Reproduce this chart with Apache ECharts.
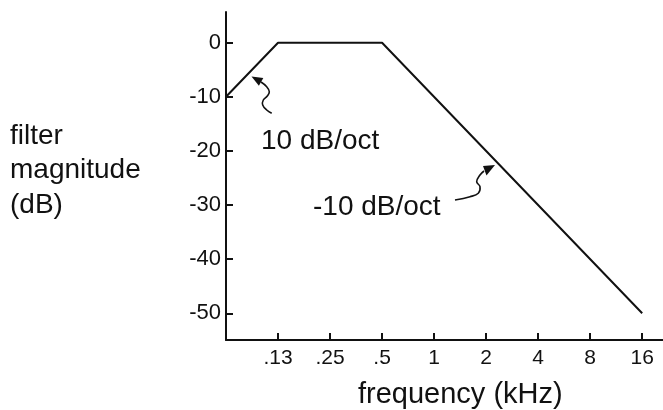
<!DOCTYPE html>
<html>
<head>
<meta charset="utf-8">
<script src="https://cdn.jsdelivr.net/npm/echarts@6/dist/echarts.min.js"></script>
<style>html,body{margin:0;padding:0;background:#fff}#c{width:663px;height:410px}</style>
</head>
<body>
<div id="c"></div>
<script>
// x positions are octave indices: 0 = .0625 kHz (at y axis), 1 = .13, 2 = .25 ... 8 = 16 kHz
const xTickLabels = ['', '.13', '.25', '.5', '1', '2', '4', '8', '16'];
const xTickPositions = [1, 2, 3, 4, 5, 6, 7, 8];
const yTickValues = [0, -10, -20, -30, -40, -50];
const responseX = [0, 1, 3, 8];
const responseDb = [-10, 0, 0, -50];

const FONT = '"Liberation Sans", Arial, Helvetica, sans-serif';
const INK = '#111';

const chart = echarts.init(document.getElementById('c'), null, {renderer: 'canvas'});
chart.setOption({
  backgroundColor: '#fff',
  animation: false,
  grid: {left: 226, right: 0, top: 12, bottom: 70},
  xAxis: {
    type: 'value', min: 0, max: 8.4,
    axisLine: {show: true, onZero: false, lineStyle: {color: INK, width: 2}},
    axisTick: {show: true, inside: true, length: 7, customValues: xTickPositions, lineStyle: {color: INK, width: 2}},
    axisLabel: {show: true, customValues: xTickPositions, margin: 8, color: INK, fontSize: 21, fontFamily: FONT,
      formatter: v => xTickLabels[Math.round(v)]},
    splitLine: {show: false}
  },
  yAxis: {
    type: 'value', min: -54.93, max: 5.67,
    axisLine: {show: true, onZero: false, lineStyle: {color: INK, width: 2}},
    axisTick: {show: true, inside: true, length: 7, customValues: yTickValues, lineStyle: {color: INK, width: 2}},
    axisLabel: {show: true, customValues: yTickValues, margin: 5, color: INK, fontSize: 22, fontFamily: FONT},
    splitLine: {show: false}
  },
  series: [{
    type: 'line',
    data: responseX.map((x, i) => [x, responseDb[i]]),
    symbol: 'none',
    lineStyle: {color: INK, width: 2}
  }],
  graphic: [
    {type: 'text', left: 10, top: 119, style: {text: 'filter\nmagnitude\n(dB)', font: '28px ' + FONT, fill: INK, lineHeight: 34.5}},
    {type: 'text', left: 261, top: 127, style: {text: '10 dB/oct', font: '28px ' + FONT, fill: INK}},
    {type: 'text', left: 313, top: 193, style: {text: '-10 dB/oct', font: '28px ' + FONT, fill: INK}},
    {type: 'text', left: 358, top: 380, style: {text: 'frequency (kHz)', font: '29px ' + FONT, fill: INK}},
    // arrow 1
    {type: 'polyline', shape: {points: [[261,82],[266.7,86.7],[269.3,91.7],[267.3,96],[263.3,100],[262.7,105],[266.7,110],[271.7,113.3]], smooth: 0.4},
      style: {stroke: INK, lineWidth: 1.6, fill: null}},
    {type: 'polygon', shape: {points: [[251.5,76.5],[263.3,78],[258.9,85.8]]}, style: {fill: INK}},
    // arrow 2
    {type: 'polyline', shape: {points: [[484,171],[480,175],[476.7,181.7],[480,186.7],[478.3,193.3],[470,196.7],[455,200]], smooth: 0.4},
      style: {stroke: INK, lineWidth: 1.6, fill: null}},
    {type: 'polygon', shape: {points: [[495,165],[483,166],[486.5,175.5]]}, style: {fill: INK}}
  ]
});
</script>
</body>
</html>
